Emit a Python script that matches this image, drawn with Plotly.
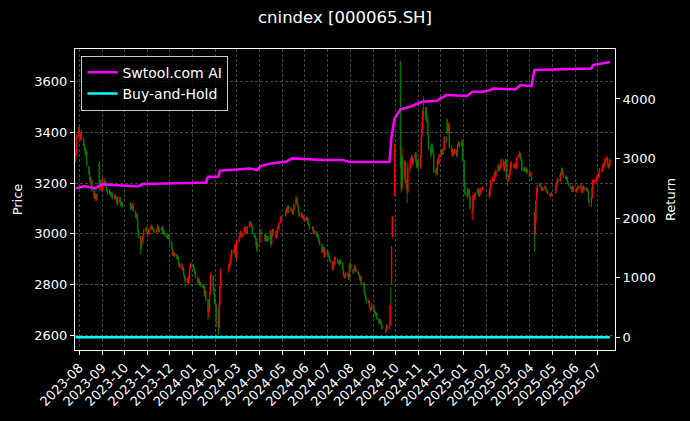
import pandas as pd
import plotly.graph_objects as go

# ---------------- data ----------------
start_date = "2023-07-27"
end_date = "2025-07-18"
holidays = [
    "2023-09-29", "2023-10-02", "2023-10-03", "2023-10-04", "2023-10-05", "2023-10-06",
    "2024-01-01", "2024-02-09", "2024-02-12", "2024-02-13", "2024-02-14", "2024-02-15", "2024-02-16",
    "2024-04-04", "2024-04-05", "2024-05-01", "2024-05-02", "2024-05-03", "2024-06-10",
    "2024-09-16", "2024-09-17", "2024-10-01", "2024-10-02", "2024-10-03", "2024-10-04", "2024-10-07",
    "2025-01-01", "2025-01-28", "2025-01-29", "2025-01-30", "2025-01-31", "2025-02-03", "2025-02-04",
    "2025-04-04", "2025-05-01", "2025-05-02", "2025-05-05", "2025-06-02",
]

opens = [
    3290, 3312, 3388,
    3412, 3398, 3372, 3398, 3375, 3348, 3333, 3312, 3322, 3262, 3238, 3218, 3198, 3208, 3168, 3142, 3158, 3134, 3152, 3282, 3176, 3207, 3196,
    3175, 3212, 3196, 3202, 3186, 3168, 3160, 3166, 3155, 3146, 3158, 3138, 3152, 3142, 3128, 3116, 3142, 3124, 3112, 3120,
    3120, 3110, 3098, 3104, 3112, 3088, 3068, 3074, 3055, 3010, 2988, 2945, 2968, 2984, 2992, 3016, 3022,
    3010, 3006, 2998, 3018, 3030, 3022, 3018, 3012, 3006, 3010, 3022, 3028, 3008, 3015, 3018, 3024, 3000, 3008, 2994, 2990, 2982, 2994,
    2978, 2964, 2942, 2916, 2924, 2912, 2918, 2902, 2908, 2882, 2868, 2878, 2858, 2864, 2834, 2828, 2810, 2820, 2804, 2830, 2864,
    2878, 2866, 2858, 2844, 2828, 2808, 2818, 2798, 2804, 2793, 2788, 2794, 2756, 2772, 2738, 2688, 2702, 2764, 2832, 2834, 2788, 2758,
    2726, 2718, 2655, 2628, 2724, 2792, 2860, 2868, 2878, 2898, 2914, 2932, 2926, 2954, 2906,
    2956, 2970, 2984, 3000, 3004, 2990, 3000, 3018, 3024, 3010, 3002, 3026, 3044, 3032, 3040, 3028, 2998, 2988, 2980, 2948, 2940,
    2966, 3012, 3002, 2998, 2974, 2990, 2974, 2986, 2980, 3006, 2960, 2994, 3014, 3004, 2998, 2984, 3008, 3020, 3044, 3060,
    3072, 3090, 3094, 3084, 3108, 3098, 3094, 3088, 3078, 3094, 3118, 3138, 3124, 3112, 3084, 3068, 3078, 3064, 3068, 3054,
    3062, 3054, 3060, 3038, 3034, 3018, 3024, 3008, 3002, 3008, 2988, 2994, 2982, 2964, 2958, 2928, 2934, 2944, 2910,
    2924, 2930, 2922, 2908, 2894, 2888, 2858, 2884, 2878, 2904, 2898, 2888, 2884, 2878, 2894, 2884, 2858, 2834, 2828, 2832, 2844, 2834, 2824,
    2878, 2872, 2856, 2848, 2858, 2868, 2858, 2848, 2838, 2834, 2818, 2828, 2798, 2804, 2768, 2758, 2744, 2728, 2734, 2708, 2698, 2704,
    2718, 2694, 2688, 2678, 2684, 2662, 2648, 2658, 2648, 2638, 2622, 2618, 2638, 2628, 2640, 2740, 2800, 2990, 3160,
    3675, 3300, 3182, 3296, 3218, 3280, 3196, 3200, 3168, 3268, 3262, 3290, 3300, 3278, 3298, 3318, 3284, 3264,
    3278, 3262, 3302, 3384, 3424, 3484, 3466, 3488, 3458, 3450, 3388, 3334, 3318, 3348, 3330, 3316, 3240, 3250, 3244, 3288, 3278,
    3310, 3320, 3328, 3316, 3332, 3378, 3450, 3396, 3410, 3428, 3340, 3328, 3308, 3326, 3318, 3328, 3310, 3350, 3358, 3356, 3348, 3364,
    3288, 3198, 3158, 3148, 3174, 3168, 3148, 3085, 3092, 3148, 3138, 3148, 3162, 3168, 3174, 3152, 3158, 3176,
    3168, 3150, 3182, 3208, 3218, 3210, 3238, 3228, 3252, 3268, 3248, 3260, 3268, 3288, 3268, 3248, 3278, 3288,
    3218, 3220, 3232, 3252, 3278, 3268, 3264, 3272, 3274, 3258, 3302, 3312, 3318, 3298, 3288, 3248, 3258, 3250, 3250, 3254, 3238,
    3232, 3234, 3226, 3080, 3000, 3050, 3140, 3168, 3194, 3194, 3186, 3178, 3172, 3182, 3184, 3178, 3168, 3164, 3158, 3148, 3154,
    3162, 3192, 3202, 3214, 3208, 3238, 3242, 3254, 3234, 3224, 3218, 3224, 3208, 3198, 3188, 3178, 3174, 3168, 3184,
    3168, 3174, 3180, 3186, 3178, 3188, 3164, 3178, 3184, 3172, 3178, 3174, 3168, 3128, 3120, 3142, 3178, 3208, 3202, 3208,
    3224, 3232, 3222, 3238, 3254, 3248, 3268, 3262, 3278, 3290, 3298, 3268, 3262, 3272,
]
highs = [
    3330, 3392, 3422,
    3425, 3405, 3400, 3410, 3380, 3355, 3340, 3335, 3328, 3268, 3245, 3225, 3222, 3212, 3172, 3162, 3162, 3158, 3160, 3286, 3212, 3215, 3202,
    3222, 3218, 3210, 3206, 3190, 3175, 3175, 3170, 3160, 3165, 3162, 3155, 3156, 3146, 3132, 3150, 3146, 3128, 3126, 3124,
    3125, 3118, 3112, 3122, 3114, 3092, 3082, 3078, 3058, 3014, 2992, 2972, 2990, 2996, 3020, 3028, 3026,
    3016, 3012, 3020, 3036, 3034, 3028, 3024, 3016, 3018, 3024, 3036, 3030, 3020, 3025, 3030, 3026, 3014, 3012, 2998, 2994, 3000, 2998,
    2982, 2970, 2946, 2930, 2928, 2926, 2920, 2915, 2910, 2886, 2886, 2882, 2870, 2866, 2840, 2832, 2826, 2824, 2836, 2870, 2886,
    2882, 2872, 2862, 2850, 2832, 2826, 2822, 2812, 2810, 2800, 2802, 2796, 2780, 2776, 2742, 2712, 2768, 2836, 2850, 2838, 2792, 2762,
    2740, 2724, 2700, 2728, 2796, 2862, 2880, 2884, 2905, 2920, 2940, 2938, 2960, 2958, 2960,
    2976, 2990, 3008, 3012, 3008, 3004, 3024, 3032, 3028, 3014, 3030, 3050, 3048, 3044, 3048, 3030, 3002, 2995, 2984, 2956, 2966,
    3014, 3016, 3008, 3000, 2996, 2994, 2990, 2990, 3016, 3008, 3000, 3020, 3020, 3010, 3002, 3014, 3026, 3046, 3068, 3072,
    3094, 3102, 3098, 3114, 3112, 3104, 3098, 3092, 3100, 3120, 3150, 3142, 3128, 3116, 3090, 3086, 3082, 3076, 3072, 3066,
    3068, 3066, 3062, 3044, 3038, 3030, 3028, 3012, 3014, 3010, 3000, 2998, 2986, 2968, 2960, 2940, 2950, 2946, 2930,
    2936, 2934, 2926, 2912, 2900, 2892, 2890, 2890, 2910, 2908, 2902, 2894, 2888, 2900, 2898, 2888, 2862, 2840, 2840, 2850, 2848, 2838, 2884,
    2886, 2878, 2862, 2862, 2876, 2872, 2862, 2852, 2842, 2838, 2834, 2830, 2810, 2806, 2772, 2762, 2748, 2740, 2736, 2712, 2712, 2726,
    2720, 2700, 2692, 2692, 2688, 2666, 2664, 2662, 2652, 2640, 2626, 2644, 2642, 2640, 2722, 2790, 2952, 3070, 3355,
    3682, 3320, 3342, 3304, 3290, 3286, 3215, 3210, 3280, 3290, 3300, 3312, 3306, 3302, 3322, 3324, 3292, 3290,
    3296, 3304, 3384, 3440, 3490, 3542, 3500, 3500, 3470, 3456, 3396, 3348, 3356, 3356, 3342, 3320, 3262, 3258, 3296, 3300, 3314,
    3330, 3336, 3334, 3336, 3386, 3384, 3455, 3420, 3438, 3430, 3348, 3334, 3336, 3330, 3336, 3332, 3354, 3366, 3362, 3360, 3372, 3368,
    3292, 3206, 3164, 3180, 3180, 3174, 3152, 3098, 3154, 3152, 3156, 3164, 3178, 3182, 3178, 3170, 3180, 3186,
    3172, 3184, 3214, 3226, 3224, 3244, 3242, 3254, 3276, 3274, 3266, 3276, 3296, 3294, 3272, 3284, 3296, 3292,
    3230, 3238, 3256, 3286, 3282, 3274, 3276, 3282, 3278, 3304, 3316, 3326, 3320, 3302, 3290, 3266, 3262, 3258, 3262, 3258, 3242,
    3242, 3246, 3232, 3086, 3076, 3134, 3180, 3194, 3202, 3198, 3190, 3182, 3184, 3190, 3188, 3180, 3172, 3168, 3162, 3160, 3166,
    3194, 3206, 3220, 3218, 3242, 3246, 3262, 3258, 3240, 3230, 3230, 3228, 3212, 3202, 3192, 3184, 3180, 3190, 3188,
    3182, 3186, 3190, 3190, 3196, 3192, 3186, 3190, 3188, 3184, 3182, 3178, 3170, 3134, 3146, 3180, 3214, 3214, 3214, 3230,
    3236, 3238, 3244, 3260, 3258, 3274, 3272, 3284, 3300, 3306, 3302, 3274, 3280, 3296,
]
lows = [
    3282, 3305, 3380,
    3392, 3368, 3365, 3372, 3345, 3328, 3310, 3305, 3265, 3232, 3210, 3192, 3195, 3165, 3138, 3138, 3130, 3130, 3142, 3175, 3170, 3188, 3170,
    3168, 3192, 3190, 3184, 3166, 3155, 3155, 3150, 3142, 3142, 3135, 3135, 3138, 3126, 3112, 3112, 3120, 3108, 3108, 3102,
    3092, 3094, 3095, 3100, 3086, 3064, 3062, 3052, 3008, 2982, 2918, 2938, 2960, 2978, 2988, 3010, 3004,
    2998, 2994, 2994, 3014, 3018, 3014, 3010, 3002, 3002, 3006, 3018, 3006, 3004, 3010, 3014, 2996, 2996, 2990, 2984, 2978, 2978, 2975,
    2958, 2940, 2914, 2912, 2908, 2908, 2898, 2900, 2880, 2864, 2864, 2855, 2854, 2832, 2822, 2792, 2806, 2800, 2800, 2826, 2860,
    2862, 2854, 2840, 2824, 2804, 2804, 2796, 2794, 2790, 2784, 2784, 2752, 2752, 2734, 2660, 2672, 2698, 2760, 2820, 2786, 2756, 2722,
    2708, 2632, 2600, 2622, 2718, 2786, 2846, 2862, 2872, 2894, 2910, 2920, 2922, 2905, 2900,
    2950, 2964, 2980, 2996, 2984, 2984, 2996, 3014, 3006, 2998, 2998, 3022, 3030, 3028, 3024, 2996, 2982, 2976, 2946, 2926, 2936,
    2962, 2998, 2994, 2970, 2968, 2970, 2968, 2968, 2976, 2945, 2956, 2990, 2998, 2994, 2980, 2980, 3002, 3016, 3040, 3054,
    3068, 3084, 3080, 3080, 3096, 3090, 3086, 3076, 3074, 3090, 3114, 3120, 3110, 3082, 3064, 3064, 3062, 3058, 3052, 3048,
    3050, 3050, 3036, 3030, 3014, 3014, 3006, 2998, 2998, 2986, 2984, 2980, 2962, 2952, 2924, 2924, 2928, 2906, 2904,
    2918, 2918, 2906, 2892, 2884, 2855, 2854, 2874, 2874, 2894, 2884, 2880, 2874, 2874, 2880, 2856, 2830, 2824, 2822, 2828, 2830, 2816, 2820,
    2870, 2858, 2840, 2844, 2854, 2855, 2846, 2836, 2830, 2816, 2814, 2796, 2796, 2766, 2754, 2742, 2724, 2724, 2706, 2694, 2694, 2700,
    2692, 2684, 2674, 2674, 2660, 2644, 2644, 2646, 2636, 2620, 2606, 2615, 2626, 2622, 2636, 2722, 2798, 2985, 3150,
    3260, 3162, 3172, 3200, 3212, 3200, 3176, 3120, 3160, 3240, 3258, 3282, 3272, 3270, 3294, 3280, 3258, 3260,
    3250, 3256, 3298, 3380, 3410, 3462, 3450, 3440, 3440, 3388, 3330, 3300, 3310, 3326, 3314, 3240, 3230, 3236, 3230, 3270, 3274,
    3302, 3312, 3312, 3310, 3328, 3360, 3396, 3390, 3404, 3336, 3322, 3302, 3304, 3312, 3312, 3300, 3306, 3342, 3346, 3340, 3344, 3286,
    3190, 3150, 3138, 3144, 3160, 3144, 3096, 3052, 3088, 3134, 3132, 3142, 3158, 3164, 3146, 3146, 3154, 3170,
    3140, 3146, 3178, 3204, 3204, 3206, 3226, 3224, 3248, 3246, 3244, 3256, 3264, 3264, 3244, 3246, 3272, 3214,
    3208, 3214, 3228, 3250, 3264, 3258, 3258, 3266, 3254, 3254, 3298, 3306, 3296, 3284, 3246, 3244, 3244, 3244, 3246, 3236, 3222,
    3226, 3228, 3206, 2930, 2990, 3040, 3130, 3160, 3186, 3184, 3174, 3168, 3168, 3176, 3174, 3164, 3160, 3154, 3144, 3144, 3150,
    3158, 3186, 3198, 3200, 3204, 3230, 3238, 3230, 3220, 3214, 3214, 3206, 3196, 3186, 3176, 3170, 3164, 3164, 3166,
    3162, 3170, 3176, 3174, 3174, 3160, 3160, 3172, 3168, 3168, 3170, 3164, 3124, 3110, 3104, 3138, 3174, 3196, 3198, 3204,
    3218, 3218, 3218, 3234, 3244, 3244, 3258, 3258, 3274, 3284, 3262, 3256, 3258, 3266,
]
closes = [
    3310, 3385, 3410,
    3400, 3375, 3395, 3380, 3350, 3335, 3315, 3325, 3270, 3240, 3215, 3200, 3210, 3170, 3145, 3155, 3135, 3150, 3148, 3180, 3205, 3195, 3178,
    3210, 3198, 3204, 3188, 3170, 3162, 3168, 3156, 3148, 3160, 3140, 3150, 3144, 3130, 3118, 3145, 3125, 3114, 3120, 3108,
    3112, 3100, 3106, 3116, 3090, 3070, 3076, 3058, 3012, 2990, 2948, 2966, 2985, 2990, 3015, 3020, 3008,
    3004, 3000, 3016, 3032, 3024, 3020, 3014, 3008, 3012, 3018, 3032, 3010, 3016, 3020, 3026, 3000, 3010, 2996, 2990, 2984, 2996, 2980,
    2962, 2945, 2918, 2925, 2914, 2920, 2904, 2910, 2884, 2870, 2880, 2860, 2866, 2836, 2830, 2812, 2822, 2806, 2832, 2866, 2880,
    2868, 2860, 2846, 2830, 2810, 2820, 2800, 2806, 2795, 2790, 2796, 2758, 2774, 2740, 2690, 2700, 2762, 2830, 2836, 2790, 2760, 2728,
    2720, 2660, 2630, 2722, 2790, 2850, 2870, 2880, 2900, 2915, 2934, 2928, 2956, 2910, 2955,
    2972, 2986, 3002, 3006, 2990, 3000, 3020, 3026, 3010, 3004, 3026, 3046, 3034, 3040, 3030, 3000, 2990, 2982, 2950, 2942, 2962,
    3010, 3004, 3000, 2976, 2990, 2975, 2986, 2975, 3010, 2962, 2996, 3016, 3005, 3000, 2985, 3010, 3020, 3040, 3062, 3066,
    3090, 3096, 3086, 3110, 3100, 3096, 3090, 3080, 3096, 3116, 3140, 3126, 3115, 3086, 3070, 3080, 3066, 3070, 3056, 3060,
    3056, 3062, 3040, 3036, 3020, 3026, 3010, 3004, 3010, 2990, 2996, 2984, 2966, 2960, 2930, 2936, 2946, 2912, 2926,
    2930, 2924, 2910, 2896, 2890, 2860, 2886, 2880, 2906, 2900, 2890, 2886, 2880, 2896, 2886, 2860, 2836, 2830, 2834, 2846, 2836, 2826, 2880,
    2876, 2864, 2850, 2856, 2870, 2860, 2850, 2840, 2836, 2820, 2830, 2800, 2806, 2770, 2760, 2746, 2730, 2736, 2710, 2700, 2706, 2720,
    2696, 2690, 2680, 2686, 2664, 2650, 2660, 2650, 2640, 2625, 2620, 2640, 2630, 2636, 2716, 2736, 2948, 3064, 3350,
    3330, 3180, 3300, 3215, 3284, 3204, 3198, 3170, 3262, 3266, 3286, 3302, 3280, 3296, 3316, 3286, 3268, 3280,
    3262, 3300, 3380, 3420, 3480, 3470, 3490, 3460, 3454, 3392, 3340, 3322, 3350, 3332, 3320, 3242, 3252, 3246, 3290, 3280, 3310,
    3322, 3330, 3318, 3330, 3380, 3370, 3400, 3412, 3430, 3342, 3330, 3310, 3330, 3320, 3330, 3310, 3350, 3360, 3354, 3350, 3366, 3290,
    3200, 3160, 3150, 3176, 3170, 3150, 3100, 3090, 3150, 3140, 3150, 3160, 3170, 3176, 3150, 3160, 3176, 3180,
    3150, 3180, 3210, 3220, 3210, 3240, 3230, 3250, 3270, 3250, 3262, 3270, 3290, 3270, 3250, 3280, 3290, 3220,
    3222, 3232, 3250, 3280, 3270, 3266, 3270, 3276, 3260, 3300, 3310, 3320, 3300, 3290, 3250, 3260, 3250, 3252, 3256, 3240, 3230,
    3236, 3240, 3214, 2992, 3070, 3130, 3170, 3190, 3196, 3190, 3180, 3174, 3180, 3186, 3180, 3170, 3166, 3160, 3150, 3156, 3160,
    3190, 3200, 3216, 3206, 3236, 3240, 3256, 3236, 3226, 3220, 3226, 3210, 3200, 3190, 3180, 3176, 3170, 3186, 3170,
    3176, 3180, 3186, 3180, 3190, 3166, 3180, 3186, 3174, 3180, 3176, 3170, 3130, 3126, 3140, 3176, 3210, 3204, 3210, 3226,
    3230, 3224, 3240, 3256, 3250, 3270, 3264, 3280, 3292, 3300, 3270, 3264, 3276, 3290,
]

# strategy equity curve (right axis), read at its turning points
strat_dates = [
    "2023-07-27", "2023-08-08", "2023-08-22", "2023-09-01", "2023-10-19", "2023-10-26",
    "2024-01-08", "2024-01-19", "2024-01-22", "2024-02-05", "2024-02-07", "2024-03-19",
    "2024-03-28", "2024-04-02", "2024-04-16", "2024-05-06", "2024-05-15", "2024-06-25",
    "2024-07-22", "2024-07-31", "2024-09-23", "2024-09-26", "2024-09-30", "2024-10-08",
    "2024-10-21", "2024-11-06", "2024-11-26", "2024-12-09", "2025-01-06", "2025-01-13",
    "2025-01-27", "2025-02-07", "2025-02-10", "2025-03-12", "2025-03-19", "2025-04-03",
    "2025-04-07", "2025-05-08", "2025-06-23", "2025-06-25", "2025-07-16", "2025-07-18",
]
strat_values = [
    2500, 2540, 2500, 2570, 2530, 2572,
    2594, 2594, 2695, 2695, 2795, 2835,
    2807, 2874, 2919, 2946, 3003, 2975,
    2975, 2941, 2941, 3366, 3674, 3826,
    3870, 3953, 3970, 4065, 4049, 4121,
    4121, 4149, 4177, 4161, 4233, 4216,
    4485, 4496, 4513, 4569, 4614, 4620,
]

# buy-and-hold curve (right axis), essentially flat on this scale
bh_dates = ["2023-07-27", "2024-02-05", "2024-09-18", "2024-10-08", "2025-07-18"]
bh_values = [1.0, 0.79, 0.79, 1.11, 0.99]

# ---------------- figure ----------------
dates = pd.bdate_range(start_date, end_date)
dates = dates[~dates.isin(pd.to_datetime(holidays))]
n = len(dates)
if not (len(opens) == len(highs) == len(lows) == len(closes) == n):
    raise SystemExit(f"length mismatch: dates={n} o={len(opens)} h={len(highs)} l={len(lows)} c={len(closes)}")

FONT = "DejaVu Sans"
fig = go.Figure()
fig.add_trace(go.Candlestick(
    x=dates, open=opens, high=highs, low=lows, close=closes,
    increasing=dict(line=dict(color="#ff0000", width=1), fillcolor="#ff0000"),
    decreasing=dict(line=dict(color="#008000", width=1), fillcolor="#008000"),
    showlegend=False, name="Price",
))
fig.add_trace(go.Scatter(
    x=strat_dates, y=strat_values, mode="lines", name="Swtool.com AI",
    line=dict(color="#ff00ff", width=2.5), yaxis="y2",
))
fig.add_trace(go.Scatter(
    x=bh_dates, y=bh_values, mode="lines", name="Buy-and-Hold",
    line=dict(color="#00ffff", width=2.5), yaxis="y2",
))

axis_common = dict(
    showline=True, linecolor="white", linewidth=1,
    ticks="outside", ticklen=4, tickcolor="white", tickwidth=1,
    tickfont=dict(family=FONT, size=13, color="white"),
    zeroline=False,
)
fig.update_layout(
    width=690, height=421,
    paper_bgcolor="black", plot_bgcolor="black",
    margin=dict(l=75, r=75, t=49, b=71),
    font=dict(family=FONT, color="white", size=13),
    title=dict(text="cnindex [000065.SH]", x=0.5, xanchor="center", y=0.96, yanchor="middle",
               font=dict(family=FONT, size=16.5, color="white")),
    xaxis=dict(
        **axis_common, mirror=True, type="date",
        range=["2023-07-26 05:00", "2025-07-24 22:00"],
        tick0="2023-08-01", dtick="M1", tickformat="%Y-%m", tickangle=-45,
        showgrid=True, gridcolor="rgba(150,150,150,0.45)", gridwidth=0.6, griddash="3px,2px",
        rangeslider=dict(visible=False),
    ),
    yaxis=dict(
        **axis_common, range=[2541, 3729], tickvals=[2600, 2800, 3000, 3200, 3400, 3600],
        showgrid=True, gridcolor="rgba(150,150,150,0.45)", gridwidth=0.6, griddash="3px,2px",
        title=dict(text="Price", standoff=8, font=dict(family=FONT, size=13, color="white")),
    ),
    yaxis2=dict(
        **axis_common, overlaying="y", side="right", range=[-213, 4839],
        tickvals=[0, 1000, 2000, 3000, 4000], showgrid=False,
        title=dict(text="Return", standoff=11, font=dict(family=FONT, size=13, color="white")),
    ),
    legend=dict(
        x=0.012, y=0.978, xanchor="left", yanchor="top",
        bgcolor="rgba(0,0,0,0.8)", bordercolor="#cccccc", borderwidth=1,
        font=dict(family=FONT, size=14, color="white"),
    ),
)

fig.write_html(
    "out.html",
    config={"displayModeBar": False},
    post_script="document.body.style.margin='0';document.body.style.background='black';",
)
